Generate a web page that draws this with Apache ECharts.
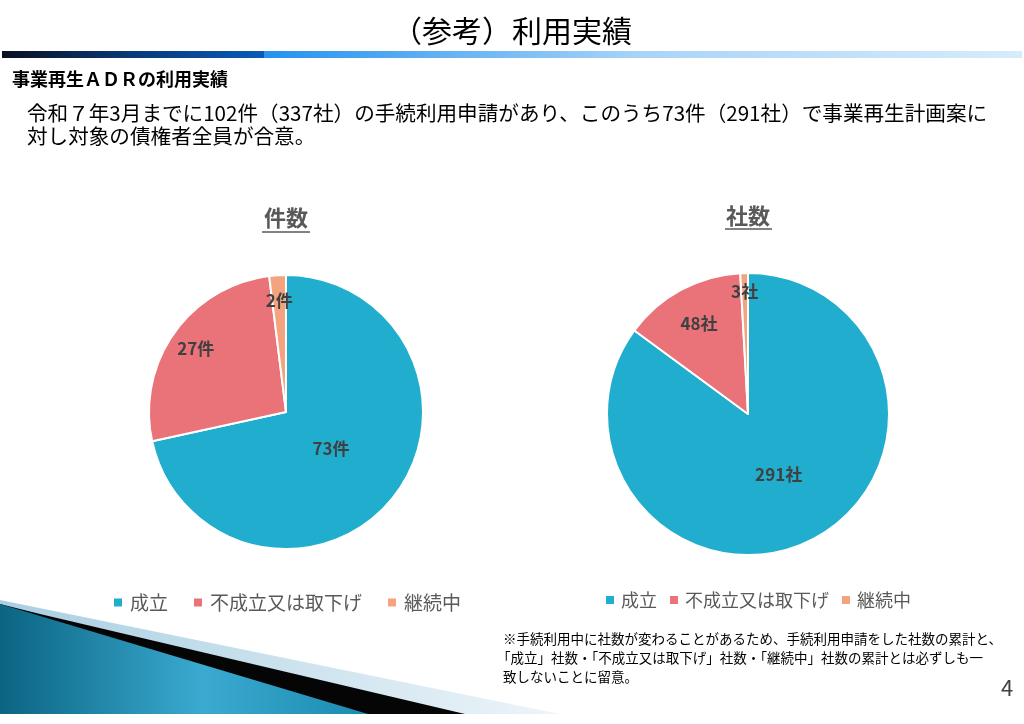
<!DOCTYPE html>
<html>
<head>
<meta charset="utf-8">
<script src="https://cdn.jsdelivr.net/npm/echarts@6/dist/echarts.min.js"></script>
<style>
html, body { margin: 0; padding: 0; background: #fff; }
#main { width: 1024px; height: 724px; }
</style>
</head>
<body>
<div id="main"></div>
<script>
// 区分（凡例）
let kubun = ['成立', '不成立又は取下げ', '継続中'];
// 件数
let kensu = [73, 27, 2];
// 社数
let shasu = [291, 48, 3];
let taniKen = '件';
let taniSha = '社';

let iro = ['#21adcd', '#ea7379', '#f3a37d'];
let font = '"Noto Sans CJK JP", "Noto Sans", sans-serif';

// Excel places the labels at different distances from the centre;
// move each 'inside' label along its slice's middle angle
function labelOffsets(values, radius, ratios) {
    let total = values.reduce((a, b) => a + b, 0);
    let acc = 0;
    let out = [];
    for (let i = 0; i < values.length; i++) {
        let ang = (acc + values[i] / 2) / total * Math.PI * 2;
        acc += values[i];
        let d = (ratios[i] - 0.5) * radius;
        out.push([Math.sin(ang) * d, -Math.cos(ang) * d]);
    }
    return out;
}

function pieData(values, tani, radius, ratios) {
    let off = labelOffsets(values, radius, ratios);
    let datos = [];
    for (let i = 0; i < values.length; i++) {
        datos.push({
            name: kubun[i],
            value: values[i],
            itemStyle: {color: iro[i]},
            label: {offset: off[i], formatter: values[i] + tani}
        });
    }
    return datos;
}

function pieSeries(name, center, radius, values, tani, ratios) {
    return {
        name: name,
        type: 'pie',
        center: center,
        radius: radius,
        startAngle: 90,
        clockwise: true,
        avoidLabelOverlap: false,
        label: {
            show: true,
            position: 'inside',
            rotate: 0,
            color: '#404040',
            fontSize: 17,
            fontWeight: 'bold',
            fontFamily: font
        },
        labelLine: {show: false},
        itemStyle: {borderColor: '#ffffff', borderWidth: 2},
        emphasis: {disabled: true},
        data: pieData(values, tani, radius, ratios)
    };
}

function texto(str, x, y, size, opts) {
    opts = opts || {};
    return {
        type: 'text',
        x: x,
        y: y,
        z: 10,
        style: {
            text: str,
            fontSize: size,
            fontFamily: font,
            fontWeight: opts.bold ? 'bold' : 'normal',
            fill: opts.color || '#000000',
            align: opts.align || 'left',
            verticalAlign: 'middle'
        }
    };
}

let myChart = echarts.init(document.getElementById('main'), null, {renderer: 'canvas'});

myChart.setOption({
    animation: false,
    backgroundColor: '#ffffff',
    legend: [
        {
            data: kubun,
            left: 109,
            top: 588,
            icon: 'rect',
            itemWidth: 8,
            itemHeight: 8,
            itemGap: 26,
            selectedMode: false,
            itemStyle: {borderWidth: 0, borderColor: 'transparent'},
            textStyle: {color: '#595959', fontSize: 19, fontFamily: font, padding: [0, 0, 0, 3]}
        },
        {
            data: kubun,
            left: 601,
            top: 586,
            icon: 'rect',
            itemWidth: 8,
            itemHeight: 8,
            itemGap: 13,
            selectedMode: false,
            itemStyle: {borderWidth: 0, borderColor: 'transparent'},
            textStyle: {color: '#595959', fontSize: 18, fontFamily: font, padding: [0, 0, 0, 2]}
        }
    ],
    series: [
        pieSeries('件数', [286, 412], 137, kensu, taniKen, [0.40, 0.785, 0.79]),
        pieSeries('社数', [748, 414], 141, shasu, taniSha, [0.46, 0.71, 0.85])
    ],
    graphic: [
        // 見出しの帯
        {
            type: 'rect',
            shape: {x: 2, y: 51, width: 262, height: 7},
            style: {fill: new echarts.graphic.LinearGradient(0, 0, 1, 0, [
                {offset: 0, color: '#0b1020'},
                {offset: 0.5, color: '#083a7a'},
                {offset: 1, color: '#0a5bb8'}
            ])}
        },
        {
            type: 'rect',
            shape: {x: 264, y: 51, width: 758, height: 7},
            style: {fill: new echarts.graphic.LinearGradient(0, 0, 1, 0, [
                {offset: 0, color: '#2492ef'},
                {offset: 0.5, color: '#a9d4f8'},
                {offset: 1, color: '#d6ecfb'}
            ])}
        },
        // 左下の飾り
        {
            type: 'polygon',
            shape: {points: [[0, 600], [560, 714], [0, 714]]},
            style: {fill: new echarts.graphic.LinearGradient(0, 0, 1, 0, [
                {offset: 0, color: '#a9cfe2'},
                {offset: 1, color: '#edf5f9'}
            ])}
        },
        {
            type: 'polygon',
            shape: {points: [[40, 614], [465, 714], [0, 714], [0, 604]]},
            style: {fill: '#050505'}
        },
        {
            type: 'polygon',
            shape: {points: [[0, 604], [368, 714], [0, 714]]},
            style: {fill: new echarts.graphic.LinearGradient(0, 0, 1, 0, [
                {offset: 0, color: '#0b6482'},
                {offset: 0.55, color: '#3aaad0'},
                {offset: 1, color: '#1c8bb0'}
            ])}
        },
        texto('（参考）利用実績', 512, 31, 30, {align: 'center'}),
        texto('事業再生ＡＤＲの利用実績', 12, 79, 18, {bold: true}),
        texto('令和７年3月までに102件（337社）の手続利用申請があり、このうち73件（291社）で事業再生計画案に', 27, 113, 20.6),
        texto('対し対象の債権者全員が合意。', 27, 136, 20.6),
        texto('件数', 286, 218, 22, {bold: true, color: '#595959', align: 'center'}),
        texto('社数', 748, 216, 22, {bold: true, color: '#595959', align: 'center'}),
        {
            type: 'line',
            shape: {x1: 262, y1: 232, x2: 310, y2: 232},
            style: {stroke: '#595959', lineWidth: 1.5}
        },
        {
            type: 'line',
            shape: {x1: 725, y1: 229, x2: 772, y2: 229},
            style: {stroke: '#595959', lineWidth: 1.5}
        },
        texto('※手続利用中に社数が変わることがあるため、手続利用申請をした社数の累計と、', 503, 639, 13.5),
        texto('「成立」社数・「不成立又は取下げ」社数・「継続中」社数の累計とは必ずしも一', 497, 658, 13.5),
        texto('致しないことに留意。', 503, 677, 13.5),
        texto('4', 1007, 688, 22, {color: '#404040', align: 'center'})
    ]
});
</script>
</body>
</html>
